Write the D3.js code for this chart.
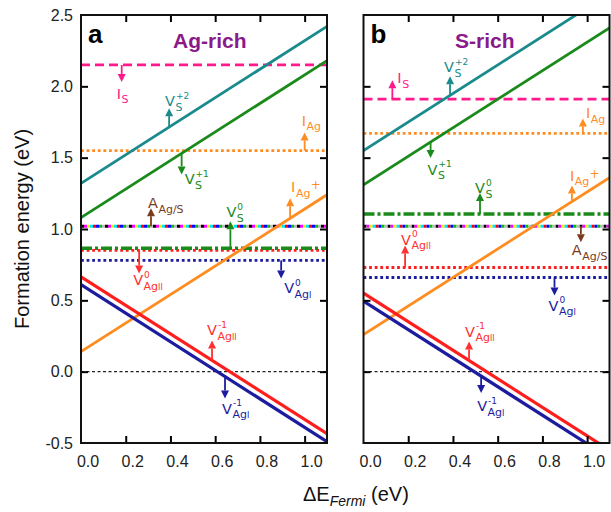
<!DOCTYPE html>
<html>
<head>
<meta charset="utf-8">
<script src="https://cdn.jsdelivr.net/npm/d3@7.9.0/dist/d3.min.js"></script>
<style>
  body { margin: 0; background: #fff; }
  text { font-family: "Liberation Sans", Arial, sans-serif; }
  .lbl { font-family: "DejaVu Sans", Verdana, sans-serif; }
</style>
</head>
<body>
<svg id="chart" width="611" height="512"></svg>
<script>
// ---- data ----
const deltaTicks = [0, 0.2, 0.4, 0.6, 0.8, 1.0];
const energyTicks = [-0.5, 0, 0.5, 1.0, 1.5, 2.0, 2.5];
const panelLetters = ['a', 'b'];
const panelTitles = ['Ag-rich', 'S-rich'];

// sloped (charged) defects: E = intercept + slope * dE
const slopedNames = ['VS+2', 'VS+1', 'IAg+', 'VAgII-1', 'VAgI-1'];
const slopedSlopes = [1, 1, 1, -1, -1];
const slopedAgRich = [1.32, 1.08, 0.14, 0.665, 0.61];
const slopedSRich = [1.55, 1.31, 0.26, 0.55, 0.495];

// flat (neutral) defects
const flatNames = ['IS', 'IAg', 'AAg/S', 'VAgII0', 'VS0', 'VAgI0'];
const flatAgRich = [2.15, 1.55, 1.02, 0.85, 0.865, 0.78];
const flatSRich = [1.91, 1.67, 1.02, 0.73, 1.105, 0.66];

// arrows + labels: on = line, at = dE of arrow
const annotAgRich = [
  { on: 'IS', at: 0.182, len: 17, dx: -5, dy: 17, base: 'I', sub: 'S' },
  { on: 'VS+2', at: 0.394, len: -19, dx: -4, dy: -2, base: 'V', sub: 'S', sup: '+2' },
  { on: 'IAg', at: 1.0, len: -18, dx: -3, dy: -7, base: 'I', sub: 'Ag' },
  { on: 'VS+1', at: 0.45, len: 21, dx: 3, dy: 10, base: 'V', sub: 'S', sup: '+1' },
  { on: 'AAg/S', at: 0.313, len: -18, dx: -3, dy: 0, base: 'A', sub: 'Ag/S' },
  { on: 'VS0', at: 0.668, len: -27, dx: -4, dy: -4, base: 'V', sub: 'S', sup: '0' },
  { on: 'VAgII0', at: 0.26, len: 23, dx: -6, dy: 12, base: 'V', sub: 'Ag', roman: 'II', sup: '0' },
  { on: 'VAgI0', at: 0.895, len: 18, dx: 3, dy: 15, base: 'V', sub: 'Ag', roman: 'I', sup: '0' },
  { on: 'IAg+', at: 0.935, len: -20, dx: 1, dy: -6, base: 'I', sub: 'Ag', supAfter: '+' },
  { on: 'VAgII-1', at: 0.586, len: -20, dx: -5, dy: -5, base: 'V', sub: 'Ag', roman: 'II', sup: '-1' },
  { on: 'VAgI-1', at: 0.644, len: 22, dx: -3, dy: 15, base: 'V', sub: 'Ag', roman: 'I', sup: '-1' }
];
const annotSRich = [
  { on: 'IS', at: 0.129, len: -19, dx: 5, dy: 3, base: 'I', sub: 'S' },
  { on: 'VS+2', at: 0.387, len: -19, dx: -6, dy: -4, base: 'V', sub: 'S', sup: '+2' },
  { on: 'IAg', at: 0.981, len: -15, dx: 3, dy: 0, base: 'I', sub: 'Ag' },
  { on: 'VS+1', at: 0.3, len: 16, dx: -3, dy: 17, base: 'V', sub: 'S', sup: '+1' },
  { on: 'VS0', at: 0.521, len: -21, dx: -5, dy: 0, base: 'V', sub: 'S', sup: '0' },
  { on: 'IAg+', at: 0.932, len: -16, dx: -2, dy: -5, base: 'I', sub: 'Ag', supAfter: '+' },
  { on: 'AAg/S', at: 0.972, len: 16, dx: -9, dy: 13, base: 'A', sub: 'Ag/S' },
  { on: 'VAgII0', at: 0.186, len: -22, dx: -4, dy: -1, base: 'V', sub: 'Ag', roman: 'II', sup: '0' },
  { on: 'VAgI0', at: 0.854, len: 18, dx: -6, dy: 15, base: 'V', sub: 'Ag', roman: 'I', sup: '0' },
  { on: 'VAgII-1', at: 0.472, len: -19, dx: -4, dy: -5, base: 'V', sub: 'Ag', roman: 'II', sup: '-1' },
  { on: 'VAgI-1', at: 0.526, len: 17, dx: -4, dy: 18, base: 'V', sub: 'Ag', roman: 'I', sup: '-1' }
];

const panelsData = [
  { sloped: slopedAgRich, flat: flatAgRich, annot: annotAgRich },
  { sloped: slopedSRich, flat: flatSRich, annot: annotSRich }
];

// ---- styles ----
const pink = '#ff1a8c', teal = '#1a8a8c', green = '#1a8a1a', orange = '#ff8c1e',
      red = '#ff1e1e', navy = '#1c1c9e', brown = '#7a3b1c', purple = '#8a1a8a';
const lineStyle = {
  'VS+2': { color: teal, width: 2.8 },
  'VS+1': { color: green, width: 2.8 },
  'IAg+': { color: orange, width: 2.8 },
  'VAgII-1': { color: red, width: 3.2 },
  'VAgI-1': { color: navy, width: 3.2 },
  'IS': { color: pink, width: 2.8, dash: '9,5' },
  'IAg': { color: orange, width: 2.8, dash: '2.8,2.8' },
  'AAg/S': { color: brown, width: 3 },
  'VAgII0': { color: red, width: 2.8, dash: '2.8,2.8' },
  'VS0': { color: green, width: 3.6, dash: '11,3,3,3' },
  'VAgI0': { color: navy, width: 2.8, dash: '2.8,2.8' }
};
const labelColor = { 'VAgII-1': '#ff3030', 'VAgII0': '#ff3030', 'IAg+': orange };
const rainbow = ['#000000', '#ff00ff', '#ffee00', '#00e5ff', '#ff0000', '#0000ff', '#00c000', '#bbbbbb'];

const svg = d3.select('#chart');
const defs = svg.append('defs');
const panelX = [[81, 327], [363.5, 609.5]];
const yTop = 15, yBottom = 443;
const y = d3.scaleLinear().domain([-0.5, 2.5]).range([yBottom, yTop]);

function drawLabel(g, x, yb, color, a) {
  const t = g.append('text').attr('class', 'lbl').attr('x', x).attr('y', yb)
    .attr('fill', color).style('font-size', '14.5px').text(a.base);
  const w = t.node().getComputedTextLength();
  let subW = 0;
  if (a.sub) {
    const s = g.append('text').attr('class', 'lbl').attr('x', x + w + 0.5).attr('y', yb + 4.5)
      .attr('fill', color).style('font-size', '11px').text(a.sub);
    if (a.roman) s.append('tspan').style('font-size', '8px').text(a.roman);
    subW = s.node().getComputedTextLength();
  }
  if (a.sup) {
    g.append('text').attr('class', 'lbl').attr('x', x + w + 1).attr('y', yb - 7.5)
      .attr('fill', color).style('font-size', '9px').text(a.sup);
  }
  if (a.supAfter) {
    g.append('text').attr('class', 'lbl').attr('x', x + w + subW + 1).attr('y', yb - 3)
      .attr('fill', color).style('font-size', '11.5px').text(a.supAfter);
  }
}

function drawArrow(g, ax, y0, y1, color) {
  const dir = Math.sign(y1 - y0), head = 8, half = 4;
  g.append('line').attr('x1', ax).attr('x2', ax).attr('y1', y0).attr('y2', y1 - dir * head)
    .attr('stroke', color).attr('stroke-width', 1.8);
  g.append('path')
    .attr('d', `M${ax - half},${y1 - dir * head} L${ax + half},${y1 - dir * head} L${ax},${y1} Z`)
    .attr('fill', color);
}

panelsData.forEach((pd, pi) => {
  const x = d3.scaleLinear().domain([0, 1.1]).range(panelX[pi]);
  const g = svg.append('g');
  const clipId = 'clip' + pi;
  defs.append('clipPath').attr('id', clipId)
    .append('rect').attr('x', x.range()[0]).attr('y', yTop)
    .attr('width', x.range()[1] - x.range()[0]).attr('height', yBottom - yTop);
  const plot = g.append('g').attr('clip-path', `url(#${clipId})`);

  const valueOn = (name, de) => {
    const si = slopedNames.indexOf(name);
    if (si >= 0) return pd.sloped[si] + slopedSlopes[si] * de;
    return pd.flat[flatNames.indexOf(name)];
  };

  // zero reference
  plot.append('line')
    .attr('x1', x(0)).attr('x2', x(1.1)).attr('y1', y(0)).attr('y2', y(0))
    .attr('stroke', '#222').attr('stroke-width', 1.2).attr('stroke-dasharray', '3,2.5');

  // flat levels
  flatNames.forEach((name, i) => {
    const e = pd.flat[i];
    if (name === 'AAg/S') {
      const seg = 3, period = seg * rainbow.length;
      rainbow.forEach((c, k) => {
        plot.append('line')
          .attr('x1', x(0)).attr('x2', x(1.1)).attr('y1', y(e)).attr('y2', y(e))
          .attr('stroke', c).attr('stroke-width', 3)
          .attr('stroke-dasharray', `${seg},${period - seg}`)
          .attr('stroke-dashoffset', -k * seg);
      });
      return;
    }
    const st = lineStyle[name];
    plot.append('line')
      .attr('x1', x(0)).attr('x2', x(1.1)).attr('y1', y(e)).attr('y2', y(e))
      .attr('stroke', st.color).attr('stroke-width', st.width)
      .attr('stroke-dasharray', st.dash);
  });

  // sloped lines
  const line = d3.line().x(d => x(d[0])).y(d => y(d[1]));
  slopedNames.forEach((name, i) => {
    const st = lineStyle[name];
    const pts = [0, 1.1].map(de => [de, pd.sloped[i] + slopedSlopes[i] * de]);
    plot.append('path').attr('d', line(pts)).attr('fill', 'none')
      .attr('stroke', st.color).attr('stroke-width', st.width);
  });

  // arrows and labels
  pd.annot.forEach(a => {
    const color = labelColor[a.on] || lineStyle[a.on].color;
    const ax = x(a.at), y0 = y(valueOn(a.on, a.at)), y1 = y0 + a.len;
    drawArrow(g, ax, y0, y1, color);
    drawLabel(g, ax + a.dx, y1 + a.dy, color, a);
  });

  // inward ticks on all sides
  const tickLen = 7;
  g.append('g').attr('transform', `translate(0,${yBottom})`)
    .call(d3.axisBottom(x).tickValues(deltaTicks.slice(1)).tickSize(-tickLen).tickFormat(''));
  g.append('g').attr('transform', `translate(0,${yTop})`)
    .call(d3.axisTop(x).tickValues(deltaTicks.slice(1)).tickSize(-tickLen).tickFormat(''));
  g.append('g').attr('transform', `translate(${x.range()[0]},0)`)
    .call(d3.axisLeft(y).tickValues(energyTicks.slice(1, -1)).tickSize(-tickLen).tickFormat(''));
  g.append('g').attr('transform', `translate(${x.range()[1]},0)`)
    .call(d3.axisRight(y).tickValues(energyTicks.slice(1, -1)).tickSize(-tickLen).tickFormat(''));
  g.selectAll('.domain').remove();
  g.selectAll('.tick line').attr('stroke', '#000').attr('stroke-width', 2);

  // frame
  g.append('rect').attr('x', x.range()[0]).attr('y', yTop)
    .attr('width', x.range()[1] - x.range()[0]).attr('height', yBottom - yTop)
    .attr('fill', 'none').attr('stroke', '#111').attr('stroke-width', 2);

  // x tick labels
  g.selectAll('text.xt').data(deltaTicks).join('text')
    .attr('class', 'xt').attr('x', d => x(d) + 7).attr('y', 467)
    .attr('text-anchor', 'middle').attr('fill', '#222').style('font-size', '16px')
    .text(d => d.toFixed(1));

  // panel letter and title
  g.append('text').attr('x', x.range()[0] + 7).attr('y', 43)
    .style('font-size', '26px').style('font-weight', 'bold').attr('fill', '#000')
    .text(panelLetters[pi]);
  g.append('text').attr('x', pi === 0 ? 173 : 455).attr('y', 48)
    .style('font-size', '21px').style('font-weight', 'bold').attr('fill', purple)
    .text(panelTitles[pi]);
});

// y tick labels (left panel only)
svg.selectAll('text.yt').data(energyTicks).join('text')
  .attr('class', 'yt').attr('x', 73).attr('y', d => y(d) + 5.7)
  .attr('text-anchor', 'end').attr('fill', '#222').style('font-size', '16px')
  .text(d => d.toFixed(1));

// axis titles
svg.append('text')
  .attr('transform', `translate(29,${(yTop + yBottom) / 2}) rotate(-90)`)
  .attr('text-anchor', 'middle').attr('fill', '#111').style('font-size', '20px')
  .text('Formation energy (eV)');

const xt = svg.append('text').attr('x', 303).attr('y', 501).attr('fill', '#111')
  .style('font-size', '20px');
xt.append('tspan').text('ΔE');
xt.append('tspan').attr('dy', 5).style('font-size', '14px').style('font-style', 'italic').text('Fermi');
xt.append('tspan').attr('dy', -5).text(' (eV)');
</script>
</body>
</html>
